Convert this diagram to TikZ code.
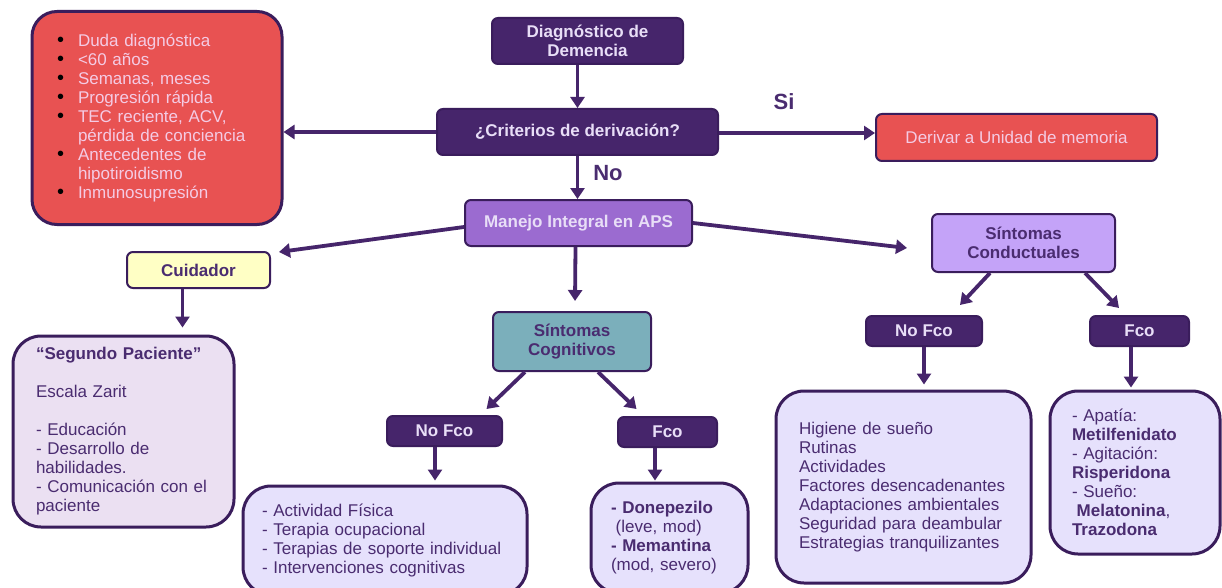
\documentclass[tikz,border=0pt]{standalone}
\usepackage{fontspec}
\setmainfont{Liberation Sans}
\usetikzlibrary{arrows.meta,positioning,calc}

\definecolor{dkpurple}{HTML}{46256B}
\definecolor{edgepurple}{HTML}{3A1D5C}
\definecolor{lavtext}{HTML}{E8DEF7}
\definecolor{txtpurple}{HTML}{4A2C70}
\definecolor{redfill}{HTML}{E85252}
\definecolor{pinktext}{HTML}{F4CBE4}
\definecolor{manejofill}{HTML}{9B6BD0}
\definecolor{condfill}{HTML}{C4A3F8}
\definecolor{tealfill}{HTML}{7BAFBB}
\definecolor{yellowfill}{HTML}{FFFFC5}
\definecolor{segfill}{HTML}{EBE0F2}
\definecolor{lightfill}{HTML}{E6E1FC}

\newcommand{\dgfont}{\fontsize{17}{19}\selectfont}
\newcommand{\critbullet}{\makebox[21pt][l]{\textcolor{black}{\fontsize{20}{19}\selectfont •}}}

\begin{document}
\begin{tikzpicture}[
  x=1pt,y=-1pt,
  smallbox/.style={draw=edgepurple, line width=2pt, rounded corners=6pt, align=center, font=\dgfont\bfseries, inner sep=0pt},
  darkbox/.style={smallbox, fill=dkpurple, text=lavtext},
  bigbox/.style={draw=edgepurple, line width=3pt, rounded corners=28pt, align=left, font=\dgfont, text=txtpurple, inner ysep=0pt},
  lbl/.style={font=\fontsize{22}{24}\selectfont\bfseries, text=txtpurple},
  arr/.style={-{Triangle[length=11pt,width=14pt]}, line width=3.8pt, draw=dkpurple}
]
\useasboundingbox[fill=white] (0,0) rectangle (1222,588);

% top of the flow
\node[darkbox, minimum width=191pt, minimum height=46pt] (diag) at (587.5,41) {Diagnóstico de\\Demencia};
\node[darkbox, minimum width=281pt, minimum height=46pt] (criterios) at (577.5,132) {¿Criterios de derivación?};
\node[smallbox, fill=redfill, text=pinktext, font=\dgfont, minimum width=281pt, minimum height=47pt] (derivar) at (1016.5,137.5) {Derivar a Unidad de memoria};
\node[bigbox, fill=redfill, text=pinktext, rounded corners=25pt, inner xsep=25pt, text width=200pt, minimum height=213pt] (criteria) at (157,118) {\critbullet Duda diagnóstica\\\critbullet <60 años\\\critbullet Semanas, meses\\\critbullet Progresión rápida\\\critbullet TEC reciente, ACV,\\\hspace*{21pt}pérdida de conciencia\\\critbullet Antecedentes de\\\hspace*{21pt}hipotiroidismo\\\critbullet Inmunosupresión};
\node[lbl] (si) at (784,102) {Si};
\node[lbl] (no) at (608,173) {No};
\node[smallbox, fill=manejofill, text=lavtext, minimum width=227pt, minimum height=46pt] (manejo) at (578.5,223) {Manejo Integral en APS};

% cuidador
\node[smallbox, fill=yellowfill, text=txtpurple, minimum width=143pt, minimum height=36pt] (cuidador) at (198.5,270) {Cuidador};
\node[bigbox, fill=segfill, inner xsep=23pt, text width=175pt, minimum height=191pt] (segundo) at (123.5,431.5) {\textbf{“Segundo Paciente”}\\[19pt]Escala Zarit\\[19pt]- Educación\\- Desarrollo de\\habilidades.\\- Comunicación con el\\paciente};

% sintomas cognitivos
\node[smallbox, fill=tealfill, text=txtpurple, minimum width=158pt, minimum height=59pt] (scog) at (572,341.5) {Síntomas\\Cognitivos};
\node[darkbox, minimum width=115pt, minimum height=30pt] (cognofco) at (444.5,431) {No Fco};
\node[darkbox, minimum width=99pt, minimum height=30pt] (cogfco) at (667.5,432) {Fco};
\node[bigbox, fill=lightfill, inner xsep=19pt, text width=246pt, minimum height=109pt] (cognofcobox) at (385,540.5) {- Actividad Física\\- Terapia ocupacional\\- Terapias de soporte individual\\- Intervenciones cognitivas};
\node[bigbox, fill=lightfill, inner xsep=20pt, text width=117pt, minimum height=110pt] (cogfcobox) at (669.5,538) {\textbf{- Donepezilo}\\\hspace*{4.7pt}(leve, mod)\\\textbf{- Memantina}\\(mod, severo)};

% sintomas conductuales
\node[smallbox, fill=condfill, text=txtpurple, minimum width=183pt, minimum height=58pt] (scond) at (1023.5,243) {Síntomas\\Conductuales};
\node[darkbox, minimum width=116pt, minimum height=30pt] (condnofco) at (924,331) {No Fco};
\node[darkbox, minimum width=99pt, minimum height=30pt] (condfco) at (1139.5,331) {Fco};
\node[bigbox, fill=lightfill, inner xsep=23pt, text width=209pt, minimum height=192pt] (condnofcobox) at (903.5,487) {Higiene de sueño\\Rutinas\\Actividades\\Factores desencadenantes\\Adaptaciones ambientales\\Seguridad para deambular\\Estrategias tranquilizantes};
\node[bigbox, fill=lightfill, inner xsep=22pt, text width=126pt, minimum height=163pt] (condfcobox) at (1135,472.5) {- Apatía:\\\textbf{Metilfenidato}\\- Agitación:\\\textbf{Risperidona}\\- Sueño:\\\hspace*{4.7pt}\textbf{Melatonina},\\\textbf{Trazodona}};

\draw[arr] (diag.south -| criterios) -- (criterios.north); \draw[arr] (criterios.west) -- (criterios.west -| criteria.east); \draw[arr] ([yshift=-1pt]criterios.east) -- ([yshift=-1pt]criterios.east -| derivar.west); \draw[arr] (criterios.south) -- (manejo.north -| criterios.south);
\draw[arr] ([yshift=-4pt]manejo.west) -- ([xshift=8pt,yshift=-1pt]cuidador.north east); \draw[arr] ([xshift=-3pt]manejo.south) -- ([xshift=3pt,yshift=10pt]scog.north); \draw[arr] (manejo.east) -- ([xshift=-24pt,yshift=-5pt]scond.west);
\draw[arr] ([xshift=-16pt]cuidador.south) -- ([xshift=-16pt,yshift=7pt]cuidador.south |- segundo.north);
\draw[arr] ([xshift=-47pt]scog.south) -- ([xshift=42pt,yshift=6pt]cognofco.north); \draw[arr] ([xshift=26pt]scog.south) -- ([xshift=-31pt,yshift=7pt]cogfco.north);
\draw[arr] ([xshift=-9.5pt]cognofco.south) -- ([xshift=-9.5pt,yshift=4pt]cognofco.south |- cognofcobox.north); \draw[arr] ([xshift=-12.5pt]cogfco.south) -- ([xshift=-12.5pt,yshift=1pt]cogfco.south |- cogfcobox.north);
\draw[arr] ([xshift=-33.5pt]scond.south) -- ([xshift=36pt,yshift=10pt]condnofco.north); \draw[arr] ([xshift=61.5pt]scond.south) -- ([xshift=-20.5pt,yshift=7pt]condfco.north);
\draw[arr] (condnofco.south) -- ([yshift=5pt]condnofco.south |- condnofcobox.north); \draw[arr] ([xshift=-8.5pt]condfco.south) -- ([xshift=-8.5pt,yshift=2pt]condfco.south |- condfcobox.north);
\end{tikzpicture}
\end{document}
